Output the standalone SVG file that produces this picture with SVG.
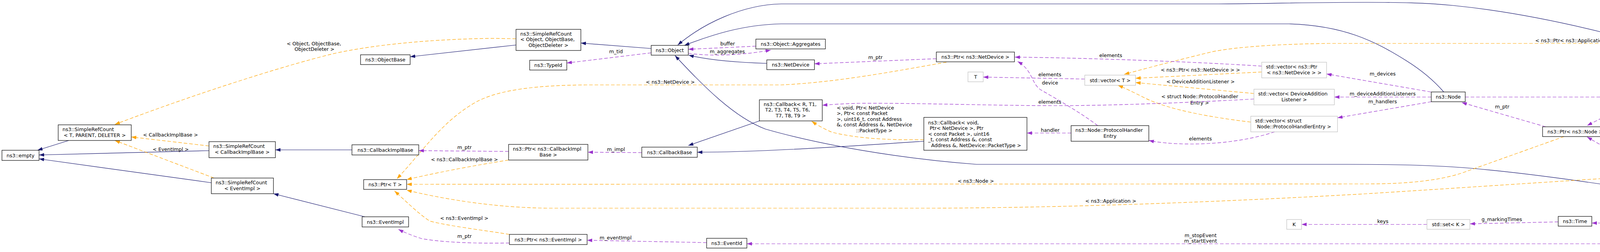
<svg xmlns="http://www.w3.org/2000/svg" width="4987" height="644" viewBox="0 0 4987 644">
<style>
text{font-family:"DejaVu Sans","Noto Sans",sans-serif;font-size:12.6px;fill:#000}
.c{text-anchor:middle}
.node rect{fill:#fff;stroke:#000;stroke-width:1.2}
.gray rect{stroke:#bfbfbf}
.hl rect{fill:#bfbfbf}
.inh{fill:none;stroke:#191970;stroke-width:1.2;marker-end:url(#aN)}
.use{fill:none;stroke:#9a32cd;stroke-width:1.2;stroke-dasharray:9,5;marker-end:url(#aP)}
.tpl{fill:none;stroke:#ffa500;stroke-width:1.2;stroke-dasharray:9,5;marker-end:url(#aO)}
</style>
<defs>
<marker id="aN" markerUnits="userSpaceOnUse" markerWidth="14" markerHeight="10" refX="13" refY="4.5" orient="auto"><path d="M0,0 L13,4.5 L0,9 Z" fill="#191970"/></marker>
<marker id="aP" markerUnits="userSpaceOnUse" markerWidth="14" markerHeight="10" refX="13" refY="4.5" orient="auto"><path d="M0,0 L13,4.5 L0,9 Z" fill="#9a32cd"/></marker>
<marker id="aO" markerUnits="userSpaceOnUse" markerWidth="14" markerHeight="10" refX="13" refY="4.5" orient="auto"><path d="M0,0 L13,4.5 L0,9 Z" fill="#ffa500"/></marker>
</defs>
<rect x="0" y="0" width="4987" height="644" fill="#fff"/>
<g id="connectors">
<!-- inheritance -->
<path class="inh" d="M176,359 L96,384"/>
<path class="inh" d="M535,385 L100,396"/>
<path class="inh" d="M541,467 L100,406"/>
<path class="inh" d="M901,383 L705,383"/>
<path class="inh" d="M934,554 L700,495"/>
<path class="inh" d="M1321,115 L1050,145"/>
<path class="inh" d="M1667,124 L1487,110"/>
<path class="inh" d="M4314,166 C4260,135 4200,108 4100,82 C3990,55 3860,28 3720,14 C3650,7 3580,6 3500,6 C3350,6 3200,10 3100,10 L2000,10 C1900,12 1800,60 1735,115"/>
<path class="inh" d="M3696,235 C3670,205 3640,180 3600,155 C3520,105 3440,65 3300,61 L2000,61 C1900,63 1820,90 1752,116"/>
<path class="inh" d="M1963,162 C1900,160 1820,155 1763,141"/>
<path class="inh" d="M4275,497 C4100,470 3900,440 3740,428 C3650,421 3550,420 3450,420 L2500,420 C2300,405 2100,370 1960,330 C1880,300 1800,220 1728,142"/>
<path class="inh" d="M1944,309 L1762,372"/>
<path class="inh" d="M2365,361 C2200,372 1950,389 1785,389"/>
<!-- template instances -->
<path class="tpl" d="M1321,99 L1260,98 C1100,100 950,115 850,138 C720,170 500,240 294,318"/>
<text x="734" y="115.6">&lt; Object, ObjectBase,</text>
<text class="c" x="805" y="130.2">ObjectDeleter &gt;</text>
<path class="tpl" d="M535,373 L336,350"/>
<text class="c" x="436.5" y="348.6">&lt; CallbackImplBase &gt;</text>
<path class="tpl" d="M548,455 L294,359"/>
<text class="c" x="437" y="385.6">&lt; EventImpl &gt;</text>
<path class="tpl" d="M1302,409 C1200,425 1100,445 1041,459"/>
<text class="c" x="1189" y="411.6">&lt; ns3::CallbackImplBase &gt;</text>
<path class="tpl" d="M4004,349 L3740,443 C3680,462 3600,470 3500,470 L1041,471"/>
<text class="c" x="2498" y="466.6">&lt; ns3::Node &gt;</text>
<path class="tpl" d="M4492,434 C4300,442 3900,470 3500,495 C3200,512 2800,530 2400,532 L1400,532 C1250,530 1120,505 1041,486"/>
<text class="c" x="2843.5" y="518">&lt; ns3::Application &gt;</text>
<path class="tpl" d="M1304,599 C1250,590 1150,578 1100,565 C1070,545 1040,515 1010,488"/>
<text class="c" x="1188.5" y="561.6">&lt; ns3::EventImpl &gt;</text>
<path class="tpl" d="M2423,159 C2300,180 2150,210 2000,217 L1500,217 C1380,218 1280,228 1220,260 C1130,310 1080,390 1016,457"/>
<text class="c" x="1716" y="213.6">&lt; ns3::NetDevice &gt;</text>
<path class="tpl" d="M2365,357 C2280,358 2200,355 2130,338 C2110,330 2090,318 2078,310"/>
<text x="2142" y="279.6">&lt; void, Ptr&lt; NetDevice</text>
<text x="2142" y="294.2">&gt;, Ptr&lt; const Packet</text>
<text x="2142" y="308.8">&gt;, uint16_t, const Address</text>
<text x="2142" y="323.4">&amp;, const Address &amp;, NetDevice</text>
<text class="c" x="2238" y="338">::PacketType &gt;</text>
<path class="tpl" d="M4863,222 C4800,175 4720,120 4600,111 L3400,111 C3250,113 3150,122 3100,133 C3030,150 2950,170 2878,190"/>
<text class="c" x="4034.5" y="107.6">&lt; ns3::Ptr&lt; ns3::Application &gt; &gt;</text>
<path class="tpl" d="M3230,184 L2907,200"/>
<text class="c" x="3073" y="182.6">&lt; ns3::Ptr&lt; ns3::NetDevice &gt; &gt;</text>
<path class="tpl" d="M3210,239 L2907,211"/>
<text class="c" x="3073.5" y="212.6">&lt; DeviceAdditionListener &gt;</text>
<path class="tpl" d="M3202,312 C3100,300 2990,280 2930,250 C2900,235 2880,225 2862,218"/>
<text x="2973" y="251.3">&lt; struct Node::ProtocolHandler</text>
<text class="c" x="3071" y="266.6">Entry &gt;</text>
<!-- usage -->
<path class="use" d="M1302,387 L1072,385"/>
<text class="c" x="1189" y="380.6">m_ptr</text>
<path class="use" d="M1304,621 C1250,622 1150,622 1080,610 C1055,602 1035,594 1020,586"/>
<text class="c" x="1189" y="607.6">m_ptr</text>
<path class="use" d="M1667,135 L1451,161"/>
<text class="c" x="1577" y="135.6">m_tid</text>
<path class="use" d="M1643,390 L1505,389"/>
<text class="c" x="1577" y="385.6">m_impl</text>
<path class="use" d="M1809,620 L1503,614"/>
<text class="c" x="1576" y="611.6">m_eventImpl</text>
<path class="use" d="M1935,118 L1762,126"/>
<text class="c" x="1862.7" y="115.6">buffer</text>
<path class="use" d="M1762,136 C1800,142 1880,145 1973,128"/>
<text class="c" x="1862" y="136.3">m_aggregates</text>
<path class="use" d="M2397,150 L2085,163"/>
<text class="c" x="2241" y="150.6">m_ptr</text>
<path class="use" d="M3230,169 C3100,160 2800,148 2598,146"/>
<text class="c" x="2843.5" y="146.2">elements</text>
<path class="use" d="M2810,321 C2770,290 2700,250 2665,230 C2640,215 2645,180 2605,157"/>
<text class="c" x="2688" y="215.6">device</text>
<path class="use" d="M2777,202 L2517,197"/>
<text class="c" x="2687.5" y="194.6">elements</text>
<path class="use" d="M3210,253 C3050,262 2850,270 2700,270 C2550,270 2350,263 2200,264 C2160,265 2130,267 2105,269"/>
<text class="c" x="2687.5" y="264.6">elements</text>
<path class="use" d="M2742,340 L2629,340"/>
<text class="c" x="2688.5" y="336.6">handler</text>
<path class="use" d="M3263,337 C3200,358 3120,368 3050,368 C3000,368 2965,364 2941,359"/>
<text class="c" x="3073" y="358.6">elements</text>
<path class="use" d="M3663,235 L3396,189"/>
<text class="c" x="3539.5" y="192.6">m_devices</text>
<path class="use" d="M3664,248 L3416,248"/>
<text class="c" x="3539.5" y="243.6">m_deviceAdditionListeners</text>
<path class="use" d="M3664,260 L3424,301"/>
<text class="c" x="3539.5" y="263.6">m_handlers</text>
<path class="use" d="M3653,573.5 L3332,573.5"/>
<text class="c" x="3540" y="569.6">keys</text>
<path class="use" d="M3989,567 L3763,572"/>
<text class="c" x="3844.5" y="564.6">g_markingTimes</text>
<path class="use" d="M3957,324 L3742,262"/>
<text class="c" x="3845.5" y="277">m_ptr</text>
<path class="use" d="M4312,192 L4063,321"/>
<text class="c" x="4209" y="220.6">m_node</text>
<path class="use" d="M4312,496 L4063,350"/>
<text class="c" x="4209" y="407.6">m_node</text>
<path class="use" d="M3751,248 L4810,248"/>
<text class="c" x="4339.5" y="244.2">m_applications</text>
<path class="use" d="M4861,268 L4618,417"/>
<text class="c" x="4756" y="312.6">elements</text>
<path class="use" d="M4549,444 L4382,496"/>
<text class="c" x="4448.5" y="464.6">m_ptr</text>
<path class="use" d="M4314,522 C4280,548 4230,568 4150,570 L4075,570"/>
<text class="c" x="4209" y="538">m_stopTime</text>
<text class="c" x="4209" y="552.6">m_startTime</text>
<path class="use" d="M4323,522 C4290,560 4220,610 4100,623 L1912,623"/>
<text class="c" x="3073.5" y="605.6">m_stopEvent</text>
<text class="c" x="3073.5" y="620">m_startEvent</text>
</g>
<g id="n_empty" class="node"><rect x="5" y="384" width="95" height="26"/><text class="c" x="52.5" y="401.5">ns3::empty</text></g>
<g id="n_src_tpd" class="node"><rect x="149" y="319" width="187" height="40"/><text x="160" y="335.2">ns3::SimpleRefCount</text><text class="c" x="242.5" y="349.9">&lt; T, PARENT, DELETER &gt;</text></g>
<g id="n_src_cib" class="node"><rect x="535" y="362" width="170" height="41"/><text x="546" y="378.2">ns3::SimpleRefCount</text><text class="c" x="620" y="392.9">&lt; CallbackImplBase &gt;</text></g>
<g id="n_src_ei" class="node"><rect x="541" y="455" width="159" height="40"/><text x="552" y="471.2">ns3::SimpleRefCount</text><text class="c" x="620.5" y="485.9">&lt; EventImpl &gt;</text></g>
<g id="n_objectbase" class="node"><rect x="923" y="140" width="127" height="25"/><text class="c" x="986.5" y="157">ns3::ObjectBase</text></g>
<g id="n_cib" class="node"><rect x="901" y="370" width="171" height="26"/><text class="c" x="986.5" y="387.5">ns3::CallbackImplBase</text></g>
<g id="n_ptrT" class="node"><rect x="931" y="459" width="110" height="25"/><text class="c" x="986" y="476">ns3::Ptr&lt; T &gt;</text></g>
<g id="n_eventimpl" class="node"><rect x="927" y="554" width="119" height="26"/><text class="c" x="986.5" y="571.5">ns3::EventImpl</text></g>
<g id="n_src_obj" class="node"><rect x="1321" y="75" width="166" height="54"/><text x="1332" y="90.6">ns3::SimpleRefCount</text><text x="1332" y="105.4">&lt; Object, ObjectBase,</text><text class="c" x="1404" y="120.1">ObjectDeleter &gt;</text></g>
<g id="n_typeid" class="node"><rect x="1356" y="154" width="95" height="25"/><text class="c" x="1403.5" y="171">ns3::TypeId</text></g>
<g id="n_ptrcib" class="node"><rect x="1302" y="369" width="203" height="40"/><text x="1313" y="385.2">ns3::Ptr&lt; ns3::CallbackImpl</text><text class="c" x="1403.5" y="399.9">Base &gt;</text></g>
<g id="n_ptrei" class="node"><rect x="1304" y="599" width="199" height="26"/><text class="c" x="1403.5" y="616.5">ns3::Ptr&lt; ns3::EventImpl &gt;</text></g>
<g id="n_object" class="node"><rect x="1667" y="116" width="95" height="25"/><text class="c" x="1714.5" y="133">ns3::Object</text></g>
<g id="n_cbbase" class="node"><rect x="1643" y="376" width="142" height="26"/><text class="c" x="1714" y="393.5">ns3::CallbackBase</text></g>
<g id="n_eventid" class="node"><rect x="1809" y="609" width="103" height="25"/><text class="c" x="1860.5" y="626">ns3::EventId</text></g>
<g id="n_aggr" class="node"><rect x="1935" y="100" width="178" height="25"/><text class="c" x="2024" y="117">ns3::Object::Aggregates</text></g>
<g id="n_netdevice" class="node"><rect x="1963" y="153" width="122" height="25"/><text class="c" x="2024" y="170">ns3::NetDevice</text></g>
<g id="n_cbR" class="node"><rect x="1944" y="255" width="161" height="54"/><text x="1955" y="270.6">ns3::Callback&lt; R, T1,</text><text x="1959" y="285.4">T2, T3, T4, T5, T6,</text><text class="c" x="2024.5" y="300.1">T7, T8, T9 &gt;</text></g>
<g id="n_ptrnd" class="node"><rect x="2397" y="133" width="200" height="25"/><text class="c" x="2497" y="150">ns3::Ptr&lt; ns3::NetDevice &gt;</text></g>
<g id="n_T" class="node gray"><rect x="2478" y="184" width="39" height="25"/><text class="c" x="2497.5" y="201">T</text></g>
<g id="n_cbvoid" class="node"><rect x="2365" y="300" width="264" height="84"/><text x="2376" y="317.6">ns3::Callback&lt; void,</text><text x="2380" y="332.2">Ptr&lt; NetDevice &gt;, Ptr</text><text x="2376" y="346.8">&lt; const Packet &gt;, uint16</text><text x="2376" y="361.4">_t, const Address &amp;, const</text><text class="c" x="2499" y="376">Address &amp;, NetDevice::PacketType &gt;</text></g>
<g id="n_vecT" class="node gray"><rect x="2777" y="192" width="130" height="26"/><text class="c" x="2842" y="209.5">std::vector&lt; T &gt;</text></g>
<g id="n_phe" class="node"><rect x="2742" y="321" width="199" height="40"/><text x="2753" y="337.2">ns3::Node::ProtocolHandler</text><text class="c" x="2841.5" y="351.9">Entry</text></g>
<g id="n_vecpnd" class="node gray"><rect x="3230" y="159" width="166" height="40"/><text x="3241" y="175.2">std::vector&lt; ns3::Ptr</text><text class="c" x="3313" y="189.9">&lt; ns3::NetDevice &gt; &gt;</text></g>
<g id="n_vecdal" class="node gray"><rect x="3210" y="228" width="206" height="40"/><text x="3221" y="244.2">std::vector&lt; DeviceAddition</text><text class="c" x="3313" y="258.9">Listener &gt;</text></g>
<g id="n_vecphe" class="node gray"><rect x="3202" y="297" width="222" height="40"/><text x="3213" y="313.2">std::vector&lt; struct</text><text class="c" x="3313" y="327.9">Node::ProtocolHandlerEntry &gt;</text></g>
<g id="n_K" class="node gray"><rect x="3294" y="561" width="38" height="25"/><text class="c" x="3313" y="578">K</text></g>
<g id="n_setK" class="node gray"><rect x="3653" y="561" width="110" height="25"/><text class="c" x="3708" y="578">std::set&lt; K &gt;</text></g>
<g id="n_node" class="node"><rect x="3664" y="235" width="87" height="25"/><text class="c" x="3707.5" y="252">ns3::Node</text></g>
<g id="n_ptrnode" class="node"><rect x="3949" y="324" width="167" height="25"/><text class="c" x="4032.5" y="341">ns3::Ptr&lt; ns3::Node &gt;</text></g>
<g id="n_time" class="node"><rect x="3989" y="553" width="86" height="25"/><text class="c" x="4032" y="570">ns3::Time</text></g>
<g id="n_ipv6" class="node hl"><rect x="4276" y="166" width="124" height="25"/><text class="c" x="4338" y="183">ns3::Ipv6Option</text></g>
<g id="n_app" class="node"><rect x="4274" y="496" width="127" height="25"/><text class="c" x="4337.5" y="513">ns3::Application</text></g>
<g id="n_ptrapp" class="node"><rect x="4492" y="418" width="205" height="25"/><text class="c" x="4594.5" y="435">ns3::Ptr&lt; ns3::Application &gt;</text></g>
<g id="n_vecpapp" class="node gray"><rect x="4810" y="228" width="172" height="40"/><text x="4821" y="244.2">std::vector&lt; ns3::Ptr</text><text class="c" x="4896" y="258.9">&lt; ns3::Application &gt; &gt;</text></g>
</svg>
